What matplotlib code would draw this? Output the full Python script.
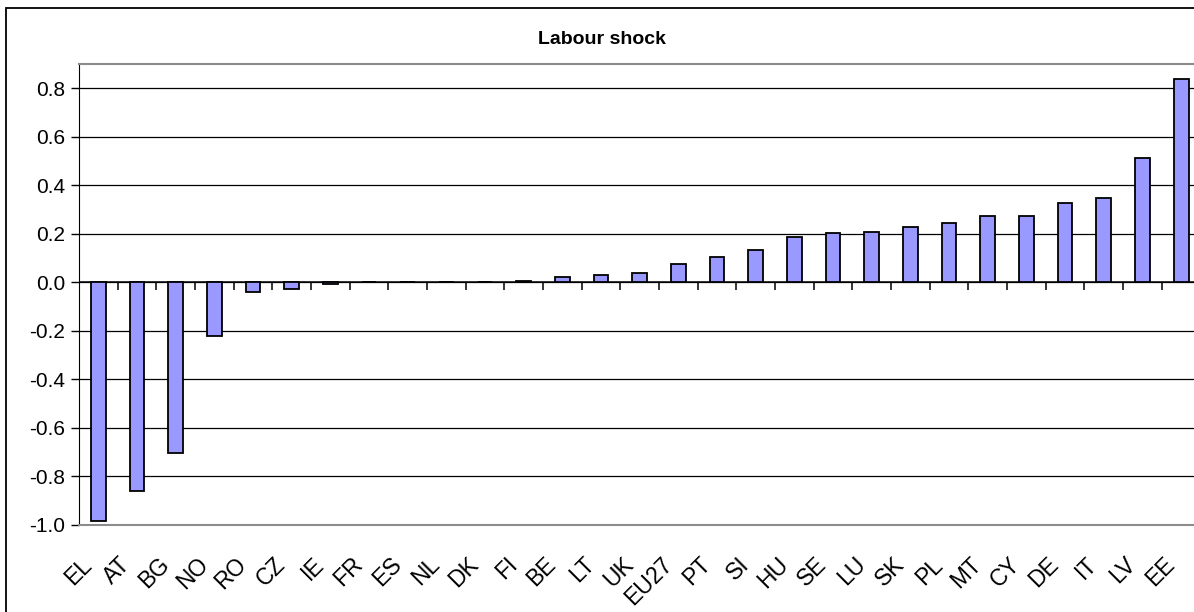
import numpy as np
import matplotlib.pyplot as plt
from matplotlib.patches import Rectangle
from matplotlib.transforms import ScaledTranslation

plt.rcParams['font.family'] = ['Liberation Sans', 'DejaVu Sans']

# country codes, sorted by shock size
countries = ['EL', 'AT', 'BG', 'NO', 'RO', 'CZ', 'IE', 'FR', 'ES', 'NL', 'DK', 'FI',
             'BE', 'LT', 'UK', 'EU27', 'PT', 'SI', 'HU', 'SE', 'LU', 'SK', 'PL', 'MT',
             'CY', 'DE', 'IT', 'LV', 'EE']
shock = [-0.983, -0.859, -0.704, -0.223, -0.038, -0.029, -0.008, 0.0, 0.0, 0.0, 0.0, 0.007,
         0.023, 0.029, 0.039, 0.074, 0.103, 0.135, 0.187, 0.202, 0.208, 0.228, 0.245, 0.275,
         0.275, 0.326, 0.349, 0.511, 0.837]
yticks = [-1.0, -0.8, -0.6, -0.4, -0.2, 0.0, 0.2, 0.4, 0.6, 0.8]

W, H = 1194, 612
fig = plt.figure(figsize=(W / 100, H / 100), dpi=100)

# outer chart frame (cropped on the right / bottom)
fig.patches.append(Rectangle((6 / W, -0.1), 2.0, 1.1 - 8 / H, transform=fig.transFigure,
                             fill=False, edgecolor='black', linewidth=1.3))

ax = fig.add_axes([79 / W, (H - 525) / H, (1200.5 - 79) / W, (525 - 64) / H])
x = np.arange(len(countries))

ax.bar(x, shock, width=0.38, color='#9999FF', edgecolor='black', linewidth=1.3, zorder=3)

ax.set_xlim(-0.5, len(countries) - 0.5)
ax.set_ylim(-1.0, 0.9)
ax.set_yticks(yticks)
ax.set_yticklabels(['%.1f' % v for v in yticks], fontsize=15)
ax.yaxis.grid(True, color='black', linewidth=0.9)
ax.set_axisbelow(True)
ax.tick_params(axis='y', length=6, width=1, color='black', pad=4)

# category axis crosses at zero, tick marks between categories
ax.axhline(0, color='black', linewidth=1.1, zorder=2)
ax.plot(x[:-1] + 0.5, np.zeros(len(x) - 1), ls='none', marker=3, ms=6, mew=1.1,
        color='black', zorder=2, clip_on=False)

ax.set_xticks(x)
ax.set_xticklabels(countries, rotation=45, ha='right', va='center',
                   rotation_mode='anchor', fontsize=16.5)
ax.tick_params(axis='x', length=0, pad=26)
shift = ScaledTranslation(-10 / 100, 0, fig.dpi_scale_trans)
for lab in ax.get_xticklabels():
    lab.set_transform(lab.get_transform() + shift)

ax.spines['left'].set_color('black')
ax.spines['top'].set_color('#8c8c8c')
ax.spines['bottom'].set_color('#8c8c8c')
ax.spines['right'].set_visible(False)
for s in ['top', 'bottom']:
    ax.spines[s].set_linewidth(1.5)

fig.text(602 / W, 1 - 40 / H, 'Labour shock', ha='center', va='center',
         fontsize=14, fontweight='bold')

fig.savefig('out.png', dpi=100)
